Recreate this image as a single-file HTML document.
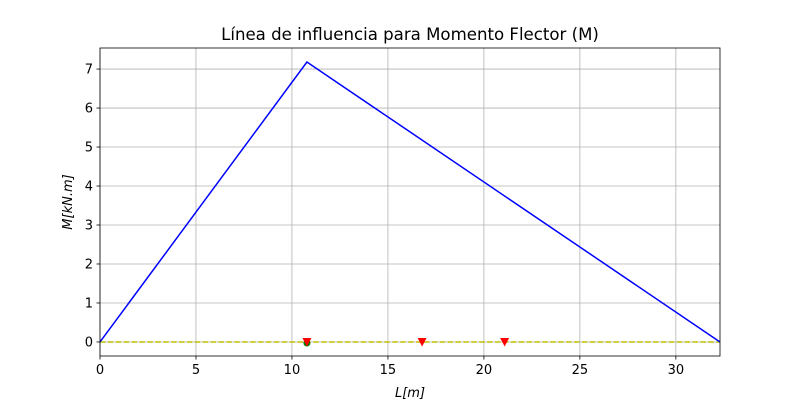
<!DOCTYPE html>
<html><head><meta charset="utf-8"><style>body{margin:0;background:#fff}svg{display:block;font-family:"DejaVu Sans","Liberation Sans",sans-serif}</style></head>
<body>
<svg id="c" width="800" height="400"></svg>
<script>
const xTicks=[0,5,10,15,20,25,30];
const yTicks=[0,1,2,3,4,5,6,7];
const lineX=[0,10.78,32.3];
const lineY=[0,7.18,0];
const loadX=[10.78,16.78,21.08];
const loadY=[0,0,0];
const supportX=[10.78];
const L=100,R=720,T=48,B=356,xmin=0,xmax=32.3,ymin=-0.36,ymax=7.54;
const sx=v=>L+(v-xmin)/(xmax-xmin)*(R-L);
const sy=v=>B-(v-ymin)/(ymax-ymin)*(B-T);
const svg=document.getElementById('c');
const NS='http://www.w3.org/2000/svg';
function mk(t,a,txt){const e=document.createElementNS(NS,t);for(const k in a)e.setAttribute(k,a[k]);if(txt!==undefined)e.textContent=txt;svg.appendChild(e);return e;}
let e;
xTicks.forEach(v=>{
e=mk('line',{x1:sx(v),x2:sx(v),y1:T,y2:B,stroke:'#b0b0b0','stroke-width':0.8});


e=mk('line',{x1:sx(v),x2:sx(v),y1:B,y2:B+3.5,stroke:'#000','stroke-width':0.8});


e=mk('text',{x:sx(v),y:B+18,'text-anchor':'middle','font-size':13},String(v));


});
yTicks.forEach(v=>{
e=mk('line',{x1:L,x2:R,y1:sy(v),y2:sy(v),stroke:'#b0b0b0','stroke-width':0.8});


e=mk('line',{x1:L-3.5,x2:L,y1:sy(v),y2:sy(v),stroke:'#000','stroke-width':0.8});


e=mk('text',{x:L-7,y:sy(v)+4.5,'text-anchor':'end','font-size':13},String(v));


});
e=mk('line',{x1:sx(xmin),x2:sx(xmax),y1:sy(0),y2:sy(0),stroke:'#bfbf00','stroke-width':1.5,'stroke-dasharray':'5.5,2.4'});


e=mk('polyline',{points:lineX.map((x,i)=>sx(x)+','+sy(lineY[i])).join(' '),fill:'none',stroke:'#0000ff','stroke-width':1.5});


supportX.forEach(x=>{
e=mk('circle',{cx:sx(x),cy:sy(0)+1,r:3.5,fill:'#008000'});


});
loadX.forEach((x,i)=>{
const cx=sx(x),cy=sy(loadY[i]);
e=mk('polygon',{points:`${cx-4.5},${cy-4} ${cx+4.5},${cy-4} ${cx},${cy+4.5}`,fill:'#ff0000'});


});
e=mk('rect',{x:L,y:T,width:R-L,height:B-T,fill:'none',stroke:'#000','stroke-width':0.8});


e=mk('text',{x:(L+R)/2,y:40,'text-anchor':'middle','font-size':16.6},'Línea de influencia para Momento Flector (M)');


e=mk('text',{x:(L+R)/2,y:397,'text-anchor':'middle','font-size':13,'font-style':'italic'},'L[m]');


e=mk('text',{x:72,y:202,'text-anchor':'middle','font-size':13,'font-style':'italic',transform:'rotate(-90 72 202)'},'M[kN.m]');


</script>
</body></html>
